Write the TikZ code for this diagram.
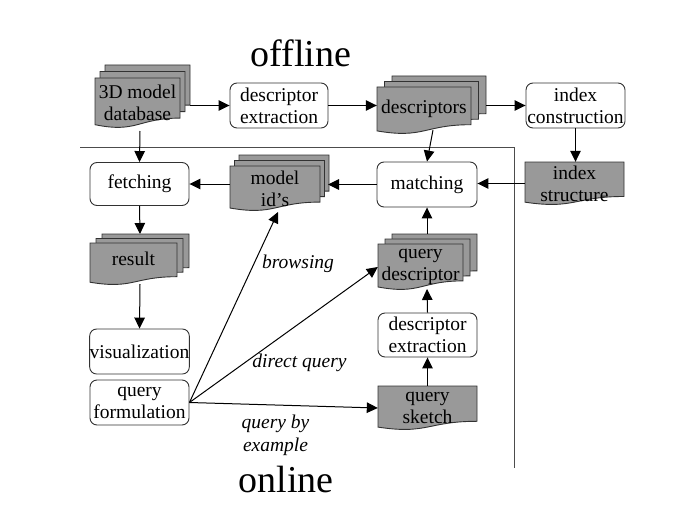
\documentclass[tikz,border=0pt]{standalone}
\usepackage{fontspec}
\setmainfont{Liberation Serif}
\usetikzlibrary{arrows.meta,calc}
\definecolor{docgray}{RGB}{153,153,153}
\definecolor{edgegray}{RGB}{50,50,50}
\newcommand\docshape[4]{% x1 y1 x2 H
  \filldraw[docfill] (#1,#2) -- (#3,#2) -- (#3,{#2+0.802*#4})
    .. controls ({(#1+#3)/2},{#2+0.802*#4}) and ({(#1+#3)/2},{#2+1.107*#4}) ..
    (#1,{#2+0.934*#4}) -- cycle;}
\tikzset{
  docfill/.style={fill=docgray,draw=edgegray,line width=0.9pt},
  boxnode/.style={draw=edgegray,line width=0.9pt,fill=white,rounded corners=7pt,
     minimum width=99pt,minimum height=45pt,inner sep=0pt,align=center,
     font=\fontsize{19.5}{22}\selectfont},
  docnode/.style={inner sep=0pt,align=center,font=\fontsize{19.5}{22}\selectfont},
  arr/.style={line width=1pt,draw=black,-{Triangle[length=11pt,width=10.5pt]}},
  lbl/.style={font=\fontsize{19.5}{23}\selectfont\itshape,align=center,inner sep=0pt},
  ttl/.style={font=\fontsize{38}{40}\selectfont,inner sep=0pt,anchor=base},
  sep/.style={line width=1pt,draw=black!70}
}
\begin{document}
\begin{tikzpicture}[x=1pt,y=-1pt]
\useasboundingbox (0,0) rectangle (692,516);
% titles
\node[ttl] (offline) at (301,67) {offline};
\node[ttl] (online) at (286,492) {online};
% separators
\coordinate (sepL) at (80,147);
\coordinate (sepC) at (514,147);
\coordinate (sepB) at (514,468);
\draw[sep] (sepL) -- (sepC) -- (sepB);
% document stacks
\docshape{105}{65}{190}{50}\docshape{100}{71.5}{185}{50}\docshape{95}{78}{180}{50}
\node[docnode,minimum width=85pt,minimum height=50pt] (db) at (137.5,103) {3D model\\database};
\docshape{392}{76}{486}{47}\docshape{384.5}{81.5}{478.5}{47}\docshape{377}{87}{471}{47}
\node[docnode,minimum width=94pt,minimum height=43pt] (desc) at (424,108.5) {descriptors};
\docshape{239}{155}{329}{45}\docshape{234.5}{160.5}{324.5}{45}\docshape{230}{166}{320}{45}
\node[docnode,minimum width=90pt,minimum height=45pt] (ids) at (275,188.5) {model\\id’s};
\docshape{102}{234}{189}{42}\docshape{96}{238.5}{183}{42}\docshape{90}{243}{177}{42}
\node[docnode,minimum width=87pt,minimum height=34pt] (result) at (133.5,259) {result};
\docshape{392}{234}{477}{46}\docshape{385}{239}{470}{46}\docshape{378}{244}{463}{46}
\node[docnode,minimum width=85pt,minimum height=46pt] (qdesc) at (420.5,267) {query\\descriptor};
\docshape{378}{386}{477}{44}
\node[docnode,minimum width=99pt,minimum height=44pt] (qsketch) at (427.5,408) {query\\sketch};
\docshape{525}{162}{624}{43}
\node[docnode,minimum width=99pt,minimum height=43pt] (istruct) at (574.5,183.5) {index\\structure};
% boxes
\node[boxnode,minimum width=98pt] (dext) at (279,105.5) {descriptor\\extraction};
\node[boxnode] (icons) at (575.5,105.5) {index\\construction};
\node[boxnode,minimum width=100pt] (match) at (427,184.5) {matching};
\node[boxnode,minimum height=43pt] (fetch) at (139.5,184) {fetching};
\node[boxnode] (visu) at (139.5,351.5) {visualization};
\node[boxnode] (qform) at (139.5,402.5) {query\\formulation};
\node[boxnode,minimum height=44pt] (dext2) at (427.5,335) {descriptor\\extraction};
% edge anchors on the stacks
\coordinate (dbR) at (190,105);
\coordinate (dbB) at (140,131);
\coordinate (descR) at (486,105);
\coordinate (descB) at (433,130);
\coordinate (idsR) at (328,185);
\coordinate (idsB) at (278,212);
\coordinate (resT) at (140,234);
\coordinate (resB) at (140,284);
\coordinate (qdT) at (427,234);
\coordinate (qdB) at (427,289);
% connectors
\draw[arr] (dext.west -| dbR) -- (dext.west);
\draw[arr] (dext.east) -- (dext.east -| desc.west);
\draw[arr] (icons.west -| descR) -- (icons.west);
\draw[arr] (icons.south) -- (icons.south |- istruct.north);
\draw[arr] (istruct.west) -- (istruct.west -| match.east);
\draw[arr] (descB) -- (match.north);
\draw[arr] (match.west) -- (match.west -| idsR);
\draw[arr] (fetch.east -| ids.west) -- (fetch.east);
\draw[arr] (dbB) -- (fetch.north);
\draw[arr] (fetch.south) -- (resT);
\draw[arr] (resB) -- (visu.north);
\draw[arr] (qform.east) -- (idsB);
\draw[arr] (qform.east) -- (qdesc.west);
\draw[arr] (qform.east) -- (qsketch.west);
\draw[arr] (qsketch.north) -- (dext2.south);
\draw[arr] (dext2.north) -- (qdB);
\draw[arr] (qdT) -- (match.south);
% labels
\node[lbl,anchor=base] (lbrowse) at (298,268) {browsing};
\node[lbl,anchor=base] (ldirect) at (299.5,367) {direct query};
\node[lbl,anchor=base] (lexample) at (275.5,451) {query by\\example};
\end{tikzpicture}
\end{document}
